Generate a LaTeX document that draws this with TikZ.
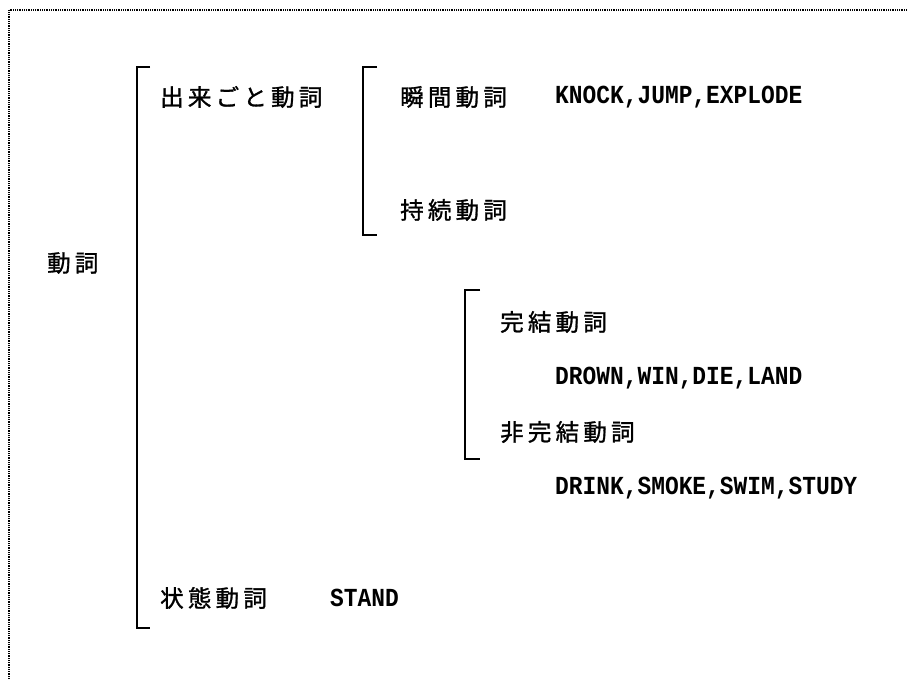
\documentclass[tikz,border=0pt]{standalone}
\usepackage{fontspec}
\newfontfamily\jp[LetterSpace=18,FakeBold=1.2]{Noto Sans CJK JP}
\newfontfamily\lat[FakeStretch=0.88]{Liberation Mono}
\begin{document}
\begin{tikzpicture}[x=1pt,y=-1pt,
  jtext/.style={anchor=west,inner sep=0pt,font=\jp\fontsize{23.5}{23.5}\selectfont},
  ltext/.style={anchor=west,inner sep=0pt,font=\lat\bfseries\fontsize{26}{26}\selectfont},
  brk/.style={line width=1.8pt,line cap=butt,line join=miter},
  frame/.style={line width=1.3pt,dash pattern=on 1pt off 0.8pt}]
\useasboundingbox (0,0) rectangle (908,679);
% frame
\draw[frame] (9,679) -- (9,10) -- (908,10);
% nodes
\node[jtext] (verb) at (47,263) {動詞};
\node[jtext] (event) at (160,97) {出来ごと動詞};
\node[jtext] (instant) at (400,97) {瞬間動詞};
\node[ltext] (ex1) at (555,97) {KNOCK,JUMP,EXPLODE};
\node[jtext] (durative) at (400,210) {持続動詞};
\node[jtext] (telic) at (500,322) {完結動詞};
\node[ltext] (ex2) at (555,378) {DROWN,WIN,DIE,LAND};
\node[jtext] (atelic) at (500,432) {非完結動詞};
\node[ltext] (ex3) at (555,488) {DRINK,SMOKE,SWIM,STUDY};
\node[jtext] (state) at (160,598) {状態動詞};
\node[ltext] (ex4) at (330,598) {STAND};
% brackets
\draw[brk] (150,67) -- (137,67) -- (137,628) -- (150,628);
\draw[brk] (377,67) -- (363,67) -- (363,235) -- (377,235);
\draw[brk] (480,290) -- (465,290) -- (465,459) -- (480,459);
\end{tikzpicture}
\end{document}
